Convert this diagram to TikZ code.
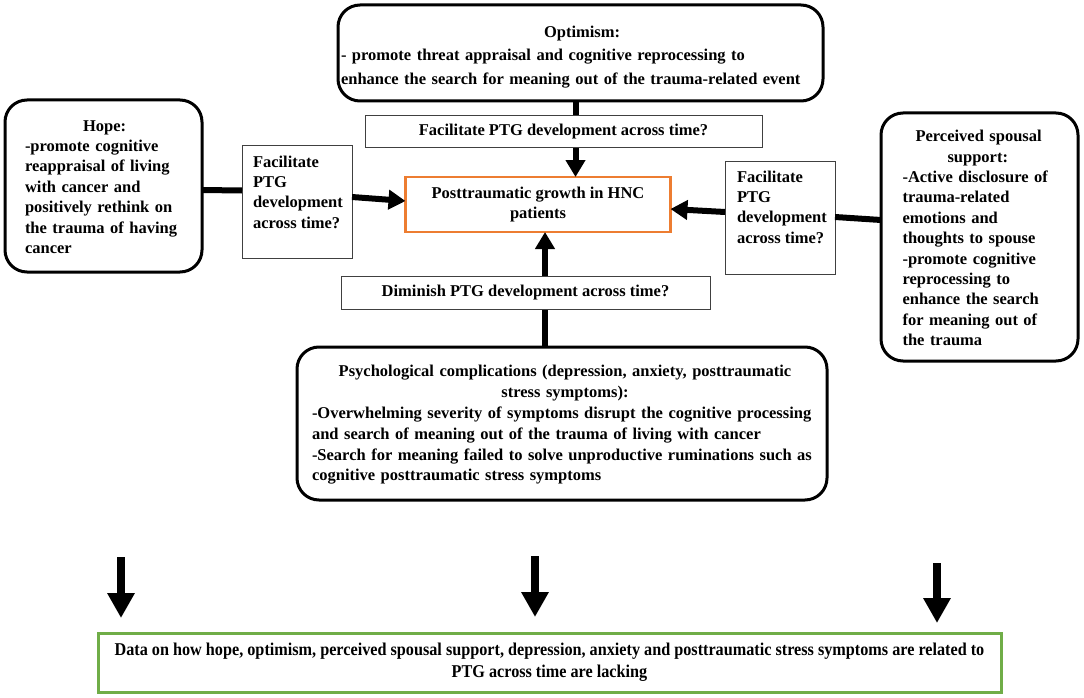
\documentclass[tikz,border=0pt]{standalone}
\usepackage{fontspec}
\setmainfont{Liberation Serif}
\newfontfamily\condfont{Liberation Serif}[FakeStretch=0.9]
\usetikzlibrary{arrows.meta,calc}
\definecolor{ptgorange}{RGB}{237,125,49}
\definecolor{datagreen}{RGB}{112,173,71}
\newcommand{\ctrline}[1]{\hfill#1\hfill\null}
\hyphenpenalty=10000
\exhyphenpenalty=10000
\begin{document}
\begin{tikzpicture}[x=1pt,y=-1pt,
  every node/.style={inner sep=0pt, outer sep=0pt},
  rbox/.style={draw=black, line width=3pt, rounded corners=22pt, fill=white},
  lbox/.style={draw=black!75, line width=1pt, fill=white},
  txt/.style={font=\fontsize{16.5}{20.4}\selectfont\bfseries},
  conn/.style={line width=6pt},
  arr/.style={line width=6pt, -{Triangle[length=17pt,width=19pt]}},
  downarr/.style={line width=8pt, -{Triangle[length=25pt,width=26pt]}}
]
\useasboundingbox (0,0) rectangle (1084,698);

% main boxes
\node[rbox, minimum width=485pt, minimum height=96pt] (opt) at (580.5,53) {};
\node[align=left, text width=480pt, anchor=west, font=\fontsize{16.5}{23.5}\selectfont\bfseries] (opttxt) at (341,57)
  {\hspace*{203pt}Optimism:\\- promote threat appraisal and cognitive reprocessing to\\enhance the search for meaning out of the trauma-related event};

\node[rbox, minimum width=197pt, minimum height=172pt] (hope) at (103.5,186) {};
\node[txt, align=left, text width=160pt] (hopetxt) at (105,187)
  {\hspace*{58pt}Hope:\\-promote cognitive\\reappraisal of living\\with cancer and\\positively rethink on\\the trauma of having\\cancer};

\node[rbox, minimum width=197pt, minimum height=248pt] (sp) at (979.5,237) {};
\node[txt, align=left, text width=165pt] (sptxt) at (985,238)
  {\hspace*{13pt}Perceived spousal\\\hspace*{45pt}support:\\-Active disclosure of\\trauma-related\\emotions and\\thoughts to spouse\\-promote cognitive\\reprocessing to\\enhance the search\\for meaning out of\\the trauma};

\node[rbox, minimum width=530pt, minimum height=153pt] (psy) at (562,423.5) {};
\node[txt, align=left, text width=506pt, font=\fontsize{16.5}{20.8}\selectfont\bfseries] (psytxt) at (565,425)
  {\ctrline{Psychological complications (depression, anxiety, posttraumatic}\\
   \ctrline{stress symptoms):}\\
   -Overwhelming severity of symptoms disrupt the cognitive processing\\
   and search of meaning out of the trauma of living with cancer\\
   -Search for meaning failed to solve unproductive ruminations such as\\
   cognitive posttraumatic stress symptoms};

\node[draw=ptgorange, line width=2.5pt, minimum width=265pt, minimum height=55pt,
      txt, align=center] (ptg) at (538,204.5)
  {Posttraumatic growth in HNC\\patients};

% connectors (drawn before label boxes)
\coordinate (optbot) at ([xshift=-5pt]opt.south);
\draw[conn] (optbot) -- (optbot |- 0,140);
\draw[arr] (optbot |- 0,140) -- (optbot |- ptg.north);

\coordinate (psytop) at ([xshift=-17pt]psy.north);
\draw[conn] (psytop) -- (psytop |- 0,292);
\draw[arr] (psytop |- 0,292) -- (psytop |- ptg.south);

% label boxes
\node[lbox, txt, minimum width=397pt, minimum height=32pt] (optlab) at (563.5,132)
  {Facilitate PTG development across time?};
\node[lbox, txt, minimum width=369pt, minimum height=33pt] (dimlab) at (525.5,292.5)
  {Diminish PTG development across time?};
\node[lbox, minimum width=110pt, minimum height=112pt] (hopelab) at (297,202) {};
\node[txt, align=left, anchor=west] (hopelabtxt) at (253,192)
  {Facilitate\\PTG\\development\\across time?};
\node[lbox, minimum width=110pt, minimum height=113pt] (splab) at (780,217.5) {};
\node[txt, align=left, anchor=west] (splabtxt) at (737,207)
  {Facilitate\\PTG\\development\\across time?};

% side connectors
\draw[conn] ([yshift=-4pt]hope.east) -- ([yshift=11.5pt]hopelab.west);
\draw[arr] ([yshift=5pt]hopelab.east) -- ([yshift=3.5pt]ptg.west);
\draw[conn] ([yshift=17pt]sp.west) -- ([yshift=0.5pt]splab.east);
\draw[arr] ([yshift=5.5pt]splab.west) -- ([yshift=-4.5pt]ptg.east);

% bottom box and arrows
\node[draw=datagreen, line width=3pt, minimum width=903pt, minimum height=59pt,
      font=\condfont\fontsize{18}{22}\selectfont\bfseries, align=center] (data) at (549.5,662.5)
  {Data on how hope, optimism, perceived spousal support, depression, anxiety and posttraumatic stress symptoms are related to\\PTG across time are lacking};

\coordinate (a1) at (121,557);
\coordinate (a2) at (535,556);
\coordinate (a3) at (937,563);
\draw[downarr] (a1) -- ++(0,61);
\draw[downarr] (a2) -- ++(0,61);
\draw[downarr] (a3) -- ++(0,60);
\end{tikzpicture}
\end{document}
